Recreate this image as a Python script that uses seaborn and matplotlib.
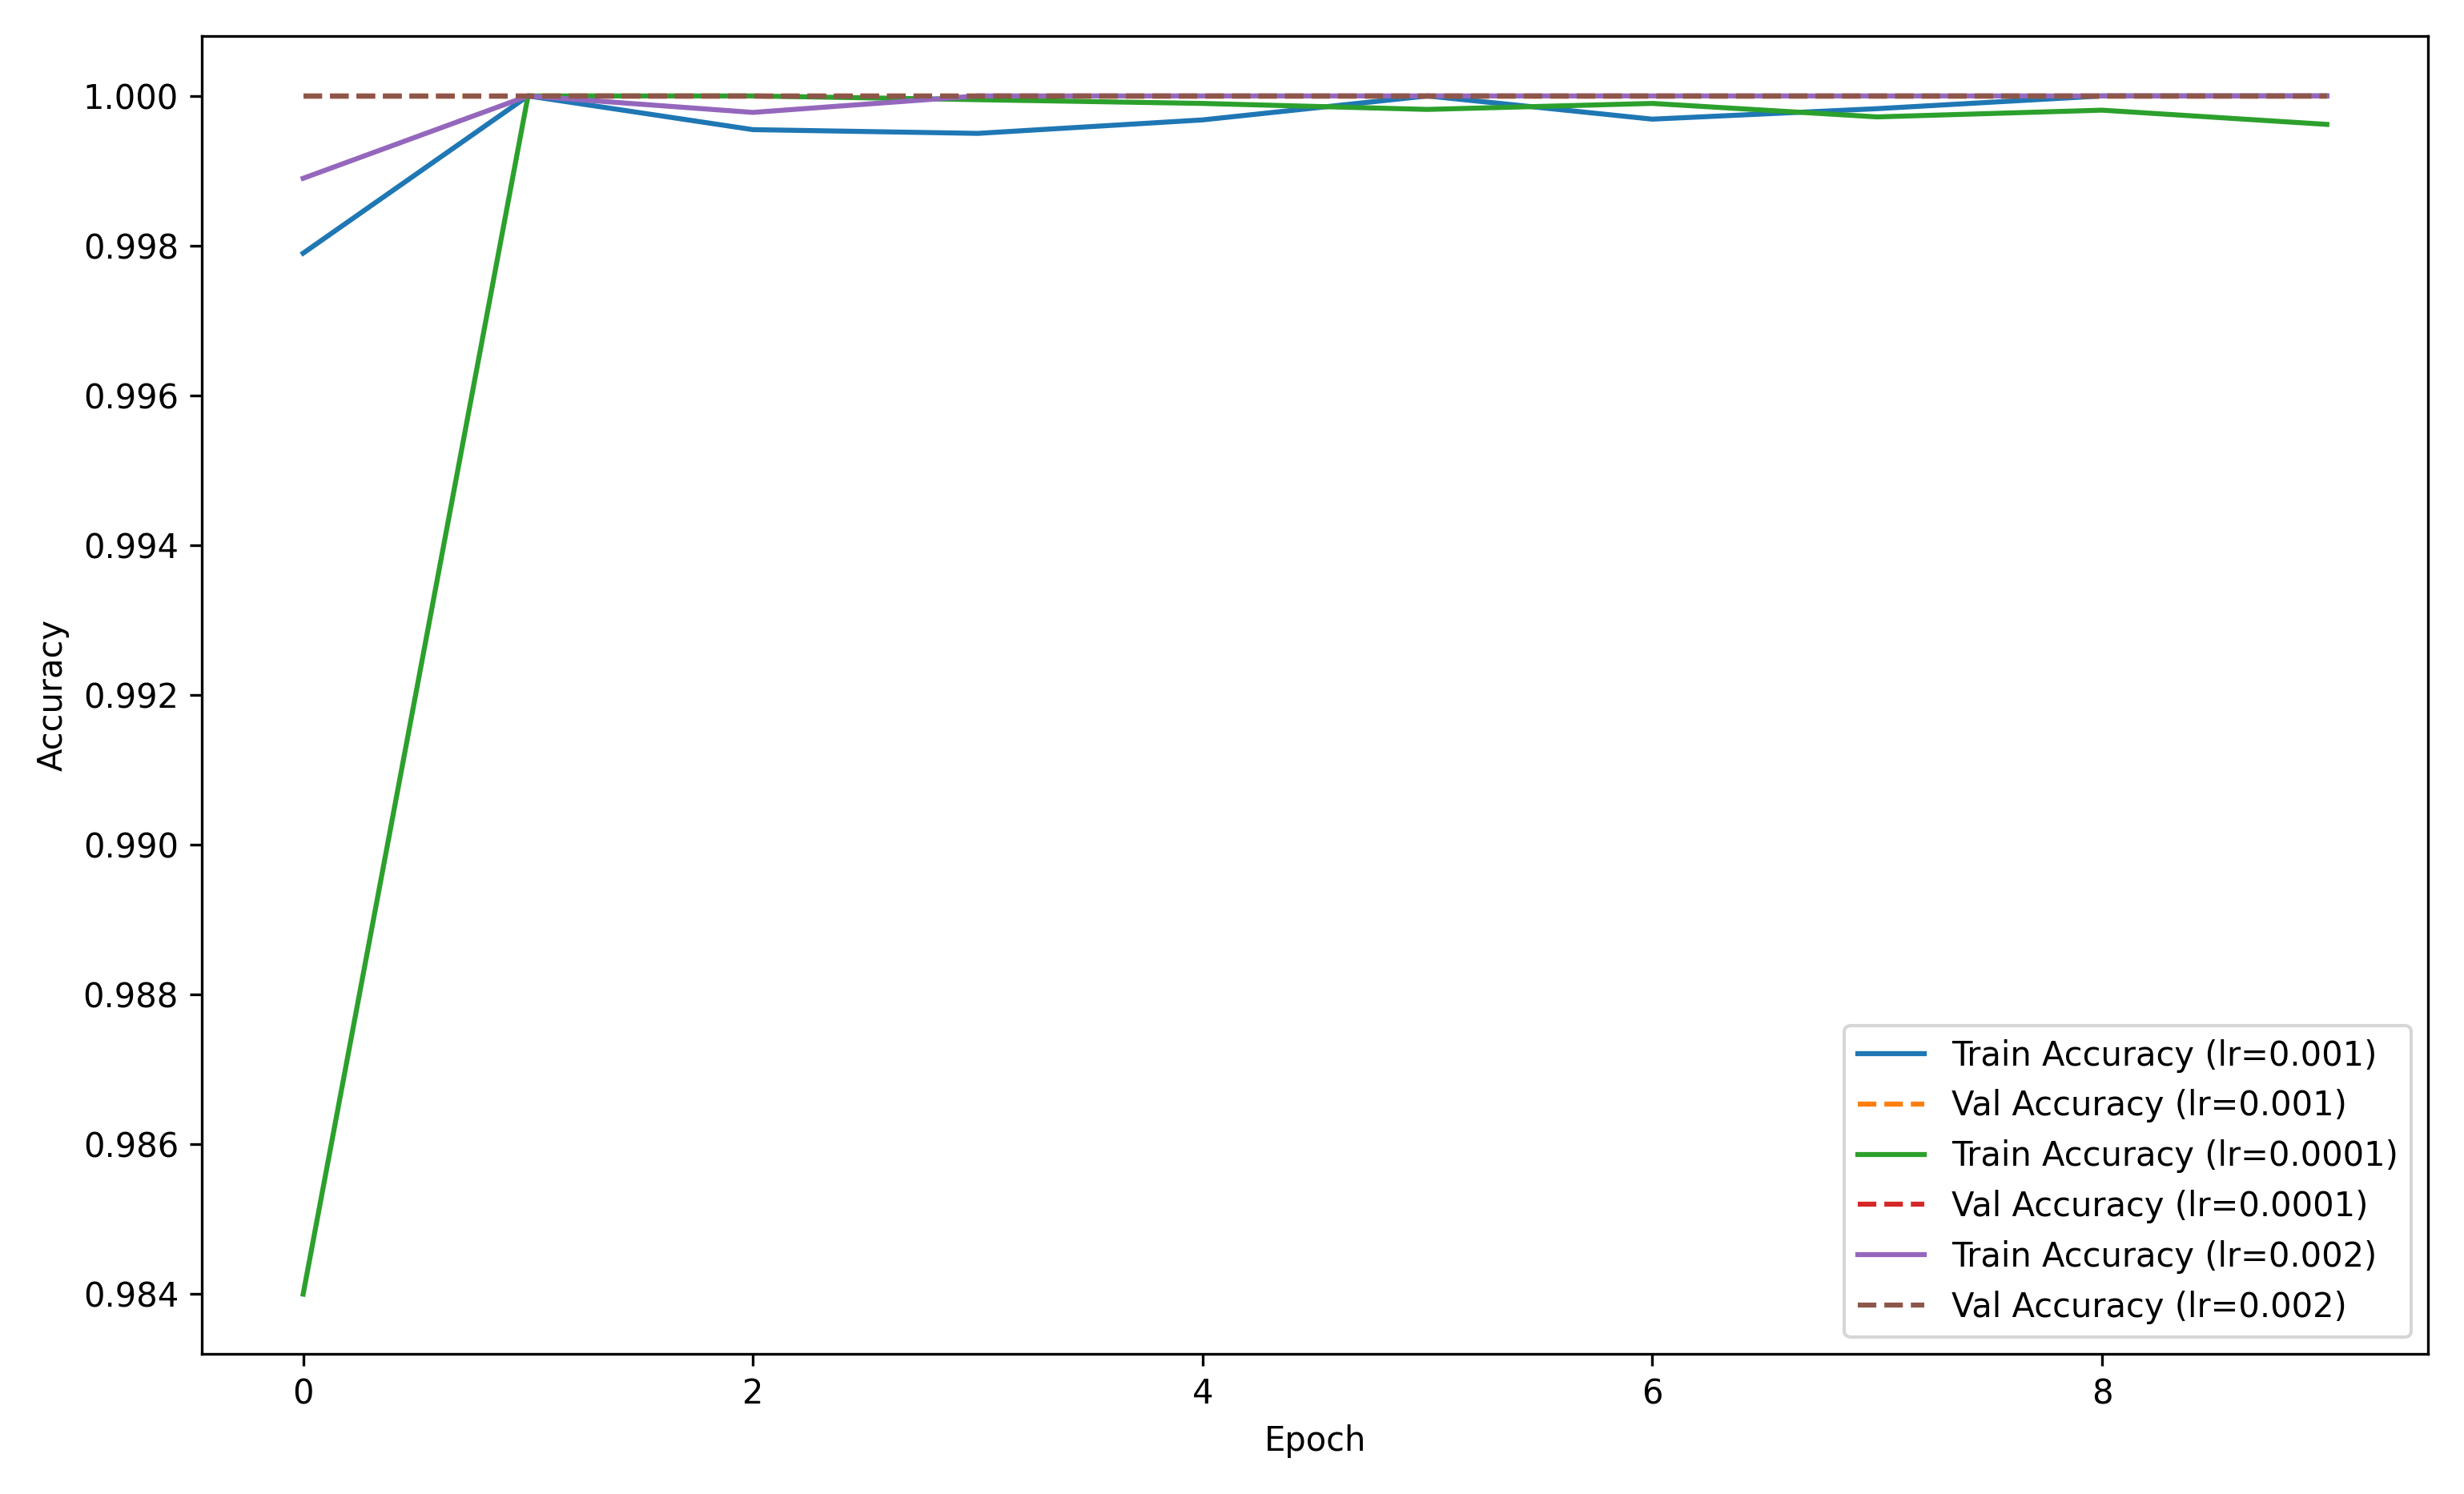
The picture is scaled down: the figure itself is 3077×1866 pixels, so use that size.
import pandas as pd
import seaborn as sns
import matplotlib.pyplot as plt

epochs = list(range(10))
train_001 = [0.9979, 1.0, 0.99955, 0.9995, 0.99968, 1.0, 0.99969, 0.99983, 1.0, 1.0]
val_001 = [1.0] * 10
train_0001 = [0.9840, 1.0, 1.0, 0.99995, 0.9999, 0.99982, 0.9999, 0.99972, 0.99981, 0.99962]
val_0001 = [1.0] * 10
train_002 = [0.9989, 1.0, 0.99978, 1.0, 1.0, 1.0, 1.0, 1.0, 1.0, 1.0]
val_002 = [1.0] * 10

series = [
    ('Train Accuracy (lr=0.001)', train_001, '-', '#1f77b4'),
    ('Val Accuracy (lr=0.001)', val_001, '--', '#ff7f0e'),
    ('Train Accuracy (lr=0.0001)', train_0001, '-', '#2ca02c'),
    ('Val Accuracy (lr=0.0001)', val_0001, '--', '#d62728'),
    ('Train Accuracy (lr=0.002)', train_002, '-', '#9467bd'),
    ('Val Accuracy (lr=0.002)', val_002, '--', '#8c564b'),
]

fig, ax = plt.subplots(figsize=(10.257, 6.22), dpi=300)
for label, vals, ls, color in series:
    df = pd.DataFrame({'Epoch': epochs, 'Accuracy': vals})
    sns.lineplot(data=df, x='Epoch', y='Accuracy', ax=ax, label=label,
                 linestyle=ls, color=color, linewidth=1.5)

ax.set_xlabel('Epoch')
ax.set_ylabel('Accuracy')
ax.legend(loc='lower right')
plt.tight_layout()
plt.savefig('out.png', dpi=300)
